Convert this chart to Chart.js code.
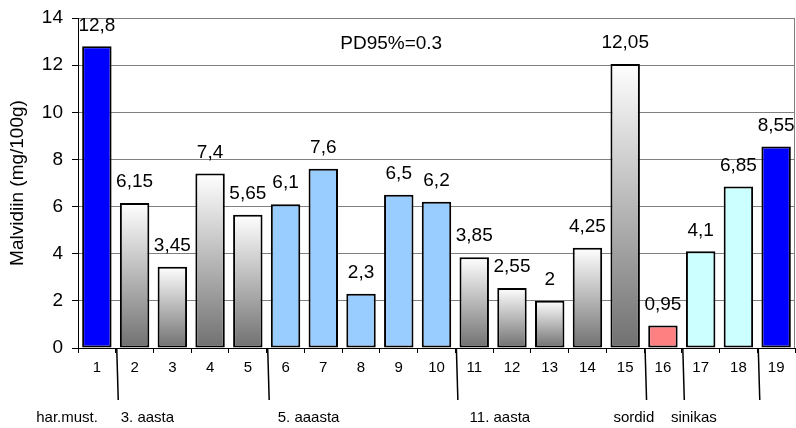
<!DOCTYPE html>
<html>
<head>
<meta charset="utf-8">
<script src="https://cdn.jsdelivr.net/npm/chart.js@4"></script>
<style>
  html, body { margin: 0; padding: 0; background: #fff; }
  #wrap { width: 796px; height: 428px; }
</style>
</head>
<body>
<div id="wrap"><canvas id="malvidiin_chart"></canvas></div>
<script>
// Sample numbers 1..19
const categories = ['1', '2', '3', '4', '5', '6', '7', '8', '9', '10', '11', '12', '13', '14', '15', '16', '17', '18', '19'];
// Malvidiin content, mg/100g
const malvidiin = [12.8, 6.15, 3.45, 7.4, 5.65, 6.1, 7.6, 2.3, 6.5, 6.2, 3.85, 2.55, 2, 4.25, 12.05, 0.95, 4.1, 6.85, 8.55];
// Fill kind for every bar
const fillKind = ['blue', 'grad', 'grad', 'grad', 'grad', 'light', 'light', 'light', 'light', 'light',
  'grad', 'grad', 'grad', 'grad', 'grad', 'salmon', 'cyan', 'cyan', 'blue'];
// Group names under the axis
const groupNames = ['har.must.', '3. aasta', '5. aaasta', '11. aasta', 'sordid', 'sinikas'];
const yTicks = [0, 2, 4, 6, 8, 10, 12, 14];
const note = 'PD95%=0.3';

const FONT = 'Arial, "Liberation Sans", sans-serif';
const solid = { blue: '#0000ff', light: '#99ccff', salmon: '#ff8080', cyan: '#ccffff' };

// where group dividers / labels sit, in category index units
const dividers = [0.5, 4.5, 9.5, 14.5, 15.5, 17.5];
const groupAt = [-0.79, 1.34, 5.61, 10.68, 14.23, 15.82];

function barFill(ctx) {
  const kind = fillKind[ctx.dataIndex];
  if (kind !== 'grad') return solid[kind];
  const chart = ctx.chart;
  const y = chart.scales.y;
  if (!chart.chartArea || !y) return '#bbbbbb';
  const top = y.getPixelForValue(ctx.raw);
  const base = y.getPixelForValue(0);
  const g = chart.ctx.createLinearGradient(0, top, 0, base);
  g.addColorStop(0, '#ffffff');
  g.addColorStop(1, '#707070');
  return g;
}

const extras = {
  id: 'extras',
  afterDatasetsDraw(chart) {
    const c = chart.ctx;
    const xs = chart.scales.x;
    const ys = chart.scales.y;
    const area = chart.chartArea;
    c.save();
    // right border of plot
    c.strokeStyle = '#808080';
    c.lineWidth = 1;
    c.beginPath();
    c.moveTo(area.right - 0.5, area.top);
    c.lineTo(area.right - 0.5, area.bottom);
    c.stroke();

    // value labels
    c.fillStyle = '#000';
    c.font = '19px ' + FONT;
    c.textAlign = 'center';
    c.textBaseline = 'middle';
    const meta = chart.getDatasetMeta(0);
    meta.data.forEach((bar, i) => {
      c.fillText(String(malvidiin[i]).replace('.', ','), bar.x, bar.y - 21);
    });

    // note
    c.fillText(note, xs.getPixelForValue(7.8), ys.getPixelForValue(12.9));

    // group dividers
    c.strokeStyle = '#000';
    c.lineWidth = 1.5;
    for (const d of dividers) {
      const px = xs.getPixelForValue(d);
      c.beginPath();
      c.moveTo(px + 1, area.bottom);
      c.lineTo(px + 2.5, area.bottom + 52);
      c.stroke();
    }

    // group names
    c.font = '15px ' + FONT;
    groupNames.forEach((name, i) => {
      c.fillText(name, xs.getPixelForValue(groupAt[i]), area.bottom + 70);
    });
    c.restore();
  }
};

const ctx = document.getElementById('malvidiin_chart').getContext('2d');
new Chart(ctx, {
  type: 'bar',
  data: {
    labels: categories,
    datasets: [{
      data: malvidiin,
      backgroundColor: barFill,
      borderColor: '#000',
      borderWidth: 2,
      borderSkipped: false,
      categoryPercentage: 0.78,
      barPercentage: 1
    }]
  },
  options: {
    responsive: true,
    maintainAspectRatio: false,
    animation: false,
    layout: { padding: { top: 18, right: 1, left: 0, bottom: 0 } },
    plugins: { legend: { display: false }, tooltip: { enabled: false } },
    scales: {
      x: {
        grid: { offset: true, drawOnChartArea: false, color: '#000', tickLength: 5 },
        border: { color: '#000', width: 1 },
        ticks: { color: '#000', font: { family: FONT, size: 15 }, padding: 6, maxRotation: 0 },
        afterFit(scale) {
          scale.height = 80;
          scale.paddingLeft = 0;
          scale.paddingRight = 0;
        }
      },
      y: {
        min: 0,
        max: 14,
        afterBuildTicks(scale) { scale.ticks = yTicks.map(v => ({ value: v })); },
        grid: { color: '#808080', tickColor: '#000', tickLength: 6 },
        border: { color: '#000', width: 1 },
        ticks: { color: '#000', font: { family: FONT, size: 19 }, padding: 9 },
        title: {
          display: true,
          text: 'Malvidiin (mg/100g)',
          color: '#000',
          font: { family: FONT, size: 19 },
          padding: { top: 6, bottom: 0 }
        },
        afterFit(scale) {
          scale.width = 78;
          scale.paddingTop = 0;
          scale.paddingBottom = 0;
        }
      }
    }
  },
  plugins: [extras]
});
</script>
</body>
</html>
